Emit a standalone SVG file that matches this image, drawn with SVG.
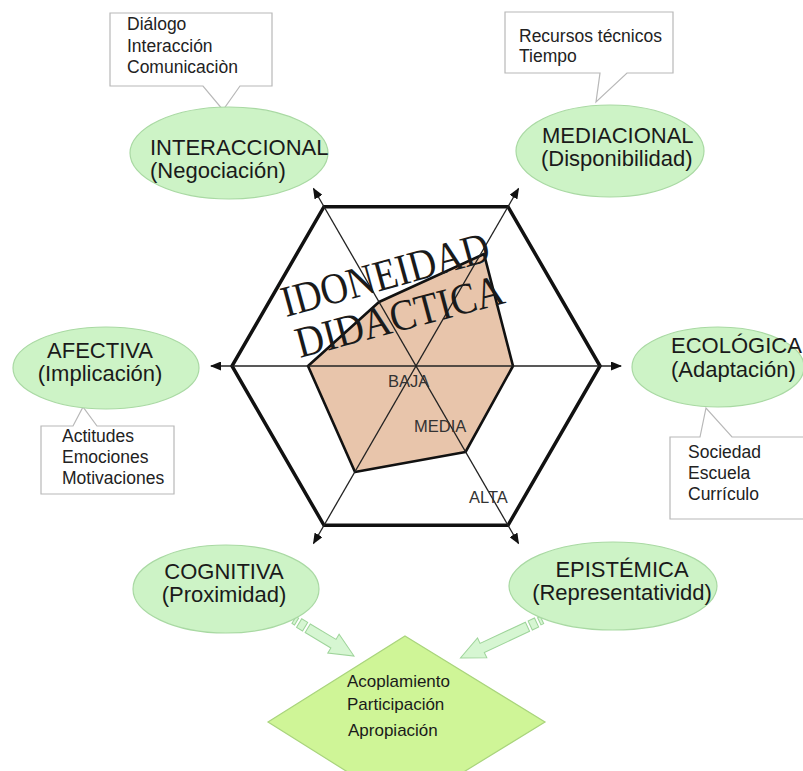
<svg xmlns="http://www.w3.org/2000/svg" width="803" height="771" viewBox="0 0 803 771">
<style>
.ell{fill:#cdf3c6;stroke:#a9d9a3;stroke-width:1.2}
.lbl{font-family:"Liberation Sans",Arial,sans-serif;font-size:22px;fill:#1a1a1a}
.call{fill:#fff;stroke:#b8b8b8;stroke-width:1.2;stroke-linejoin:miter}
.ct{font-family:"Liberation Sans",Arial,sans-serif;font-size:17.5px;fill:#222}
.hex{fill:none;stroke:#111;stroke-width:3.5;stroke-linejoin:miter}
.axis{stroke:#222;stroke-width:1.3;fill:none;marker-start:url(#ah);marker-end:url(#ah)}
.poly{fill:#e8c5ab;stroke:#111;stroke-width:2.6;stroke-linejoin:round}
.lvl{font-family:"Liberation Sans",Arial,sans-serif;font-size:16.5px;fill:#333}
.big{font-family:"Liberation Serif","Times New Roman",serif;font-size:44px;fill:#1a1a1a}
.dia{fill:#cff597;stroke:#a9d47c;stroke-width:1.2}
.barrow{fill:#d6f6d2;stroke:#9ed49a;stroke-width:1}
.dt{font-family:"Liberation Sans",Arial,sans-serif;font-size:17px;fill:#1a1a1a}
</style>
<defs>
<marker id="ah" markerWidth="11" markerHeight="9" refX="10" refY="4.5" orient="auto-start-reverse" markerUnits="userSpaceOnUse">
<path d="M0,0 L11,4.5 L0,9 Z" fill="#111"/>
</marker>
</defs>
<rect width="803" height="771" fill="#ffffff"/>

<g id="chart">
<polygon class="hex" points="600,366 508,206.7 324,206.7 232,366 324,525.3 508,525.3"/>
<polygon class="poly" points="484,254 513,366 465.5,452 355,472 308,366 379,302"/>
</g>

<g id="connectors">
<line class="axis" x1="211" y1="366" x2="621" y2="366"/>
<line class="axis" x1="313.5" y1="188.5" x2="518.5" y2="543.5"/>
<line class="axis" x1="518.5" y1="188.5" x2="313.5" y2="543.5"/>
<g class="barrow" transform="translate(294,620) rotate(31)">
<rect x="0" y="-4" width="3" height="8"/>
<rect x="6" y="-5" width="7" height="10"/>
<path d="M16,-5 H46 V-11 L70,0 L46,11 V5 H16 Z"/>
</g>
<g class="barrow" transform="translate(542,620) rotate(155)">
<rect x="0" y="-4" width="3" height="8"/>
<rect x="6" y="-5" width="7" height="10"/>
<path d="M16,-5 H66 V-11 L90,0 L66,11 V5 H16 Z"/>
</g>
</g>

<g id="title">
<text class="big" transform="translate(286,317) rotate(-15.4)" textLength="214" lengthAdjust="spacingAndGlyphs">IDONEIDAD</text>
<text class="big" transform="translate(300,358) rotate(-15)" textLength="214" lengthAdjust="spacingAndGlyphs">DIDACTICA</text>
</g>

<g id="levels">
<text class="lvl" x="388" y="387">BAJA</text>
<text class="lvl" x="414" y="432">MEDIA</text>
<text class="lvl" x="469" y="503">ALTA</text>
</g>

<g id="interaccional">
<path class="call" d="M110,13 H272 V86 H240 L223,110 L203,86 H110 Z"/>
<text class="ct" x="127" y="30">Diálogo</text>
<text class="ct" x="127" y="52">Interacción</text>
<text class="ct" x="127" y="73">Comunicaciòn</text>
<ellipse class="ell" cx="229" cy="153" rx="99" ry="46"/>
<text class="lbl" x="150" y="155">INTERACCIONAL</text>
<text class="lbl" x="150" y="178">(Negociación)</text>
</g>

<g id="mediacional">
<path class="call" d="M505,12 H673 V73 H627 L596,102 L600,73 H505 Z"/>
<text class="ct" x="519" y="42">Recursos técnicos</text>
<text class="ct" x="519" y="62">Tiempo</text>
<ellipse class="ell" cx="610" cy="151" rx="94" ry="46"/>
<text class="lbl" x="542" y="143">MEDIACIONAL</text>
<text class="lbl" x="541" y="166">(Disponibilidad)</text>
</g>

<g id="afectiva">
<path class="call" d="M41,426 H73 L83,407 L97,426 H174 V494 H41 Z"/>
<text class="ct" x="62" y="442">Actitudes</text>
<text class="ct" x="62" y="463">Emociones</text>
<text class="ct" x="62" y="484">Motivaciones</text>
<ellipse class="ell" cx="106" cy="368" rx="93" ry="41"/>
<text class="lbl" x="100" y="358" text-anchor="middle">AFECTIVA</text>
<text class="lbl" x="100" y="381" text-anchor="middle">(Implicación)</text>
</g>

<g id="ecologica">
<path class="call" d="M670,437 H700 L706,408 L732,437 H812 V519 H670 Z"/>
<text class="ct" x="688" y="458">Sociedad</text>
<text class="ct" x="688" y="479">Escuela</text>
<text class="ct" x="688" y="500">Currículo</text>
<ellipse class="ell" cx="718" cy="367" rx="86" ry="40"/>
<text class="lbl" x="671" y="353">ECOLÓGICA</text>
<text class="lbl" x="671" y="377">(Adaptación)</text>
</g>

<g id="cognitiva">
<ellipse class="ell" cx="226" cy="589" rx="93" ry="44"/>
<text class="lbl" x="224" y="579" text-anchor="middle">COGNITIVA</text>
<text class="lbl" x="224" y="602" text-anchor="middle">(Proximidad)</text>
</g>

<g id="epistemica">
<ellipse class="ell" cx="613" cy="586" rx="104" ry="44"/>
<text class="lbl" x="622" y="577" text-anchor="middle">EPISTÉMICA</text>
<text class="lbl" x="622" y="600" text-anchor="middle">(Representatividd)</text>
</g>

<g id="resultado">
<polygon class="dia" points="405,636 545,722 405,808 268,722"/>
<text class="dt" x="347" y="687">Acoplamiento</text>
<text class="dt" x="347" y="710">Participación</text>
<text class="dt" x="348" y="736">Apropiación</text>
</g>
</svg>
